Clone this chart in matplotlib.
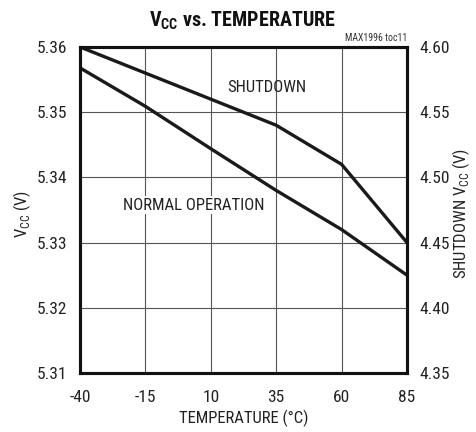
import matplotlib
matplotlib.use("Agg")
import matplotlib.pyplot as plt

plt.rcParams['font.family'] = ['Roboto Condensed', 'Liberation Sans', 'DejaVu Sans']
plt.rcParams['mathtext.fontset'] = 'custom'
plt.rcParams['mathtext.rm'] = 'Roboto Condensed'
plt.rcParams['mathtext.bf'] = 'Roboto Condensed:bold'

temperature = [-40, -15, 10, 35, 60, 85]
normal_vcc = [5.3568, 5.3509, 5.3444, 5.3380, 5.3320, 5.3250]
shutdown_vcc = [4.600, 4.580, 4.560, 4.540, 4.510, 4.450]

x_ticks = [-40, -15, 10, 35, 60, 85]
left_ticks = [5.31, 5.32, 5.33, 5.34, 5.35, 5.36]
right_ticks = [4.35, 4.40, 4.45, 4.50, 4.55, 4.60]

fig = plt.figure(figsize=(4.76, 4.32), dpi=100)
ax = fig.add_axes([80/476, 1-373/432, (407-80)/476, (373-47)/432])
ax2 = ax.twinx()

ax.set_xlim(-40, 85)
ax.set_ylim(5.31, 5.36)
ax2.set_ylim(4.35, 4.60)
ax.set_xticks(x_ticks)
ax.set_xticklabels([str(t) for t in x_ticks])
ax.set_yticks(left_ticks)
ax.set_yticklabels([f"{t:.2f}" for t in left_ticks])
ax2.set_yticks(right_ticks)
ax2.set_yticklabels([f"{t:.2f}" for t in right_ticks])

ax.grid(True, color='#555555', linewidth=0.8)
ax.set_axisbelow(True)
for a in (ax, ax2):
    a.tick_params(length=0, labelsize=12.5, colors='#222222', pad=9)
    for s in a.spines.values():
        s.set_linewidth(2.2)
        s.set_color('#111111')
ax.tick_params(axis='x', pad=12)

ax.plot(temperature, normal_vcc, color='#1a1a1a', linewidth=2.4, solid_joinstyle='miter')
ax2.plot(temperature, shutdown_vcc, color='#1a1a1a', linewidth=2.4, solid_joinstyle='miter')

ax.text(0.57, 0.876, "SHUTDOWN", transform=ax.transAxes, ha='center', va='center',
        fontsize=12, color='#222222')
ax.text(0.348, 0.515, "NORMAL OPERATION", transform=ax.transAxes, ha='center', va='center',
        fontsize=12, color='#222222', bbox=dict(facecolor='white', edgecolor='none', pad=1))

ax.set_xlabel("TEMPERATURE (°C)", fontsize=12, color='#222222', labelpad=4)
fig.text(22/476, 1-214/432, r"V$_{\mathregular{CC}}$ (V)", rotation=90, ha='center', va='center',
         fontsize=12, color='#222222')
fig.text(461/476, 1-214/432, r"SHUTDOWN V$_{\mathregular{CC}}$ (V)", rotation=90, ha='center',
         va='center', fontsize=12, color='#222222')

fig.text(243/476, 1-21/432, r"V$_{\mathbf{CC}}$ vs. TEMPERATURE", ha='center', va='center',
         fontsize=14.5, fontweight='bold', color='#111111')
fig.text(407/476, 1-38/432, "MAX1996 toc11", ha='right', va='center', fontsize=7, color='#333333')

fig.savefig("out.png", dpi=100)
